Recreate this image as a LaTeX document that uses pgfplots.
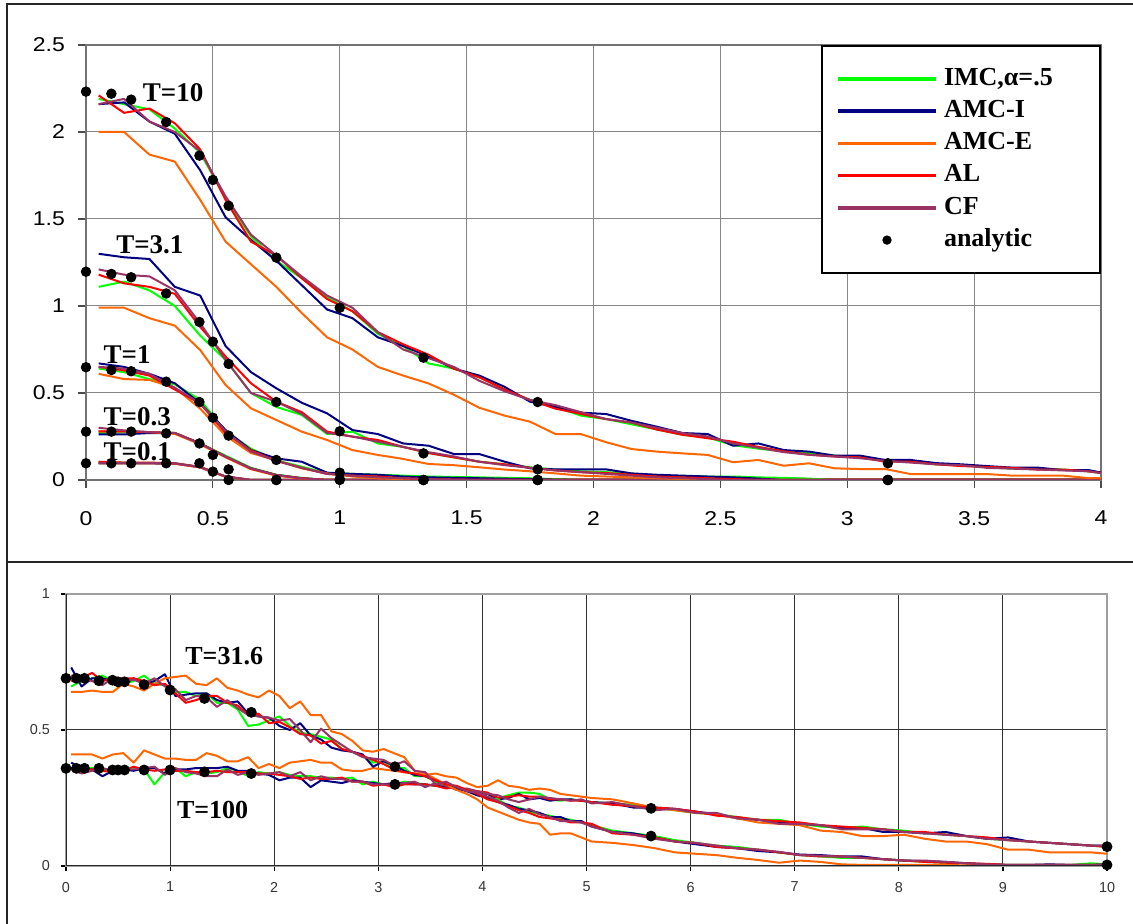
\documentclass[border=0pt]{standalone}
\usepackage{fontspec}
\setmainfont{Liberation Serif}
\setsansfont{Liberation Sans}
\newfontfamily\tickfont[FakeStretch=1.15]{Liberation Sans}
\usepackage{pgfplots}
\pgfplotsset{compat=1.18}
\usepackage{pgfplotstable}

\definecolor{cG}{RGB}{0,255,0}
\definecolor{cB}{RGB}{0,0,128}
\definecolor{cO}{RGB}{255,102,0}
\definecolor{cR}{RGB}{255,0,0}
\definecolor{cP}{RGB}{153,51,102}

\pgfplotsset{simline/.style={line width=1pt, forget plot, mark=none, line join=round}}
\newcommand{\fiveplots}[1]{%
 \addplot[cG, simline] table[x=x,y=G]{#1};
 \addplot[cB, simline] table[x=x,y=B]{#1};
 \addplot[cO, simline] table[x=x,y=O]{#1};
 \addplot[cR, simline] table[x=x,y=R]{#1};
 \addplot[cP, simline] table[x=x,y=P]{#1};}

% ---------- top panel ----------
\pgfplotstableread{
x G B O R P
0.05 2.19 2.16 2.00 2.21 2.16
0.15 2.16 2.17 2.00 2.11 2.19
0.25 2.13 2.06 1.87 2.135 2.06
0.35 2.02 1.99 1.83 2.05 2.00
0.45 1.88 1.78 1.61 1.90 1.89
0.55 1.62 1.51 1.37 1.61 1.63
0.65 1.40 1.38 1.24 1.37 1.41
0.75 1.26 1.26 1.11 1.29 1.29
0.85 1.16 1.12 0.96 1.16 1.17
0.95 1.05 0.98 0.82 1.04 1.06
1.05 0.97 0.93 0.75 0.97 0.99
1.15 0.84 0.82 0.65 0.85 0.85
1.25 0.77 0.77 0.60 0.78 0.75
1.35 0.67 0.71 0.555 0.72 0.70
1.45 0.64 0.64 0.49 0.64 0.65
1.55 0.59 0.60 0.415 0.59 0.57
1.65 0.52 0.535 0.37 0.52 0.51
1.75 0.46 0.45 0.335 0.46 0.46
1.85 0.42 0.42 0.264 0.41 0.43
1.95 0.37 0.387 0.264 0.38 0.39
2.05 0.35 0.379 0.217 0.35 0.35
2.15 0.32 0.34 0.178 0.33 0.33
2.25 0.29 0.306 0.163 0.29 0.30
2.35 0.26 0.27 0.153 0.26 0.27
2.45 0.245 0.264 0.144 0.24 0.25
2.55 0.20 0.197 0.102 0.22 0.21
2.65 0.18 0.21 0.115 0.19 0.185
2.75 0.165 0.172 0.082 0.165 0.16
2.85 0.155 0.163 0.096 0.145 0.145
2.95 0.14 0.14 0.067 0.135 0.135
3.05 0.13 0.14 0.063 0.13 0.125
3.15 0.11 0.115 0.063 0.105 0.11
3.25 0.105 0.115 0.034 0.105 0.10
3.35 0.09 0.097 0.034 0.09 0.09
3.45 0.085 0.09 0.034 0.08 0.085
3.55 0.075 0.08 0.034 0.075 0.07
3.65 0.065 0.071 0.025 0.07 0.065
3.75 0.065 0.071 0.025 0.06 0.06
3.85 0.06 0.057 0.025 0.06 0.055
3.95 0.05 0.057 0.011 0.05 0.05
4.00 0.04 0.043 0.011 0.04 0.04
}\tTen

\pgfplotstableread{
x G B O R P
0.05 1.11 1.30 0.99 1.18 1.21
0.15 1.14 1.28 0.99 1.13 1.18
0.25 1.09 1.27 0.93 1.11 1.17
0.35 1.00 1.11 0.887 1.07 1.09
0.45 0.83 1.06 0.747 0.88 0.90
0.55 0.69 0.77 0.546 0.71 0.69
0.65 0.50 0.62 0.412 0.556 0.50
0.75 0.42 0.527 0.345 0.45 0.45
0.85 0.374 0.444 0.278 0.39 0.38
0.95 0.264 0.383 0.23 0.278 0.27
1.05 0.278 0.287 0.172 0.249 0.25
1.15 0.21 0.264 0.144 0.23 0.22
1.25 0.19 0.21 0.121 0.19 0.19
1.35 0.155 0.197 0.092 0.155 0.16
1.45 0.13 0.149 0.085 0.13 0.135
1.55 0.105 0.149 0.073 0.105 0.105
1.65 0.09 0.105 0.06 0.09 0.085
1.75 0.073 0.067 0.05 0.07 0.07
1.85 0.06 0.061 0.038 0.055 0.055
1.95 0.05 0.061 0.025 0.045 0.045
2.05 0.045 0.061 0.02 0.04 0.035
2.15 0.035 0.038 0.015 0.03 0.025
2.25 0.025 0.03 0.01 0.02 0.015
2.35 0.022 0.025 0.006 0.015 0.01
2.45 0.02 0.02 0.004 0.01 0.005
2.55 0.02 0.015 0.0 0.005 0.0
2.65 0.015 0.008 0 0 0
2.75 0.012 0.0 0 0 0
2.85 0.008 0 0 0 0
2.95 0.0 0 0 0 0
4.00 0 0 0 0 0
}\tThree

\pgfplotstableread{
x G B O R P
0.05 0.64 0.67 0.61 0.65 0.65
0.15 0.62 0.65 0.58 0.63 0.64
0.25 0.58 0.61 0.575 0.60 0.61
0.35 0.55 0.556 0.53 0.52 0.53
0.45 0.46 0.44 0.41 0.44 0.44
0.55 0.28 0.287 0.255 0.27 0.28
0.65 0.18 0.172 0.155 0.17 0.163
0.75 0.113 0.124 0.113 0.11 0.11
0.85 0.076 0.105 0.067 0.07 0.07
0.95 0.04 0.042 0.038 0.035 0.035
1.05 0.035 0.035 0.02 0.025 0.025
1.15 0.03 0.03 0.01 0.02 0.015
1.25 0.025 0.02 0.005 0.01 0.01
1.35 0.02 0.015 0 0.005 0.005
1.55 0.015 0.01 0 0 0
1.75 0.01 0.005 0 0 0
1.95 0.0 0 0 0 0
4.00 0 0 0 0 0
}\tOne

\pgfplotstableread{
x G B O R P
0.05 0.27 0.262 0.28 0.28 0.30
0.15 0.275 0.262 0.28 0.28 0.285
0.25 0.274 0.27 0.275 0.275 0.275
0.35 0.27 0.27 0.265 0.27 0.27
0.45 0.21 0.21 0.205 0.21 0.21
0.55 0.14 0.134 0.13 0.134 0.134
0.65 0.07 0.067 0.062 0.065 0.067
0.75 0.03 0.029 0.025 0.028 0.028
0.85 0.012 0.01 0.008 0.01 0.01
0.95 0 0 0 0 0
4.00 0 0 0 0 0
}\tPtThree

\pgfplotstableread{
x G B O R P
0.05 0.10 0.095 0.096 0.105 0.098
0.15 0.10 0.095 0.096 0.10 0.098
0.25 0.098 0.095 0.096 0.10 0.097
0.35 0.096 0.094 0.094 0.096 0.096
0.45 0.075 0.073 0.072 0.075 0.074
0.55 0.02 0.02 0.018 0.02 0.02
0.65 0 0 0 0 0
4.00 0 0 0 0 0
}\tPtOne

% ---------- bottom panel ----------
\pgfplotstableread{
x G B O R P
0.05 0.66 0.73 0.64 0.68 0.70
0.15 0.68 0.66 0.64 0.69 0.69
0.25 0.69 0.69 0.645 0.71 0.68
0.35 0.70 0.69 0.64 0.68 0.665
0.45 0.68 0.68 0.64 0.69 0.69
0.55 0.67 0.665 0.67 0.69 0.68
0.65 0.68 0.69 0.66 0.69 0.685
0.75 0.70 0.67 0.645 0.68 0.67
0.85 0.67 0.68 0.67 0.665 0.69
0.95 0.665 0.705 0.69 0.67 0.66
1.05 0.64 0.625 0.695 0.635 0.65
1.15 0.64 0.63 0.70 0.60 0.61
1.25 0.625 0.635 0.67 0.61 0.625
1.35 0.635 0.635 0.665 0.625 0.62
1.45 0.60 0.61 0.69 0.625 0.585
1.55 0.60 0.60 0.655 0.60 0.61
1.65 0.575 0.605 0.645 0.59 0.58
1.75 0.515 0.56 0.63 0.555 0.555
1.85 0.52 0.55 0.62 0.56 0.55
1.95 0.535 0.545 0.645 0.525 0.545
2.05 0.55 0.515 0.625 0.53 0.535
2.15 0.515 0.50 0.58 0.51 0.54
2.25 0.49 0.525 0.605 0.485 0.50
2.35 0.485 0.48 0.555 0.48 0.455
2.45 0.475 0.465 0.555 0.45 0.505
2.55 0.465 0.435 0.495 0.46 0.47
2.65 0.43 0.425 0.485 0.43 0.445
2.75 0.42 0.42 0.46 0.42 0.42
2.85 0.405 0.41 0.425 0.405 0.40
2.95 0.38 0.365 0.42 0.39 0.395
3.05 0.385 0.385 0.43 0.375 0.39
3.15 0.36 0.37 0.415 0.355 0.37
3.25 0.36 0.35 0.40 0.345 0.385
3.35 0.33 0.335 0.35 0.34 0.35
3.45 0.33 0.33 0.34 0.33 0.345
3.55 0.31 0.315 0.32 0.315 0.30
3.65 0.30 0.30 0.30 0.30 0.31
3.75 0.29 0.285 0.28 0.295 0.29
3.85 0.28 0.275 0.265 0.28 0.275
3.95 0.265 0.26 0.245 0.265 0.27
4.05 0.25 0.25 0.215 0.245 0.255
4.15 0.245 0.235 0.20 0.235 0.24
4.25 0.22 0.225 0.185 0.22 0.215
4.35 0.215 0.21 0.17 0.205 0.195
4.45 0.20 0.205 0.16 0.195 0.21
4.55 0.19 0.195 0.155 0.18 0.19
4.65 0.185 0.18 0.115 0.175 0.18
4.75 0.175 0.18 0.12 0.17 0.165
4.85 0.17 0.165 0.12 0.16 0.165
4.95 0.16 0.165 0.105 0.16 0.16
5.05 0.15 0.145 0.09 0.155 0.145
5.25 0.13 0.125 0.085 0.12 0.125
5.45 0.12 0.12 0.077 0.115 0.115
5.65 0.11 0.105 0.066 0.105 0.10
5.85 0.095 0.09 0.05 0.09 0.09
6.05 0.085 0.08 0.045 0.085 0.085
6.25 0.075 0.07 0.04 0.07 0.075
6.45 0.07 0.065 0.03 0.065 0.065
6.65 0.06 0.055 0.022 0.06 0.06
6.85 0.05 0.05 0.012 0.05 0.052
7.05 0.04 0.042 0.02 0.04 0.04
7.25 0.035 0.04 0.015 0.035 0.038
7.45 0.03 0.035 0.006 0.035 0.034
7.65 0.03 0.035 0.004 0.03 0.03
7.85 0.025 0.025 0.004 0.025 0.025
8.05 0.02 0.02 0.004 0.02 0.02
8.25 0.015 0.018 0.004 0.015 0.02
8.45 0.012 0.015 0.004 0.012 0.015
8.65 0.01 0.01 0.002 0.01 0.01
8.85 0.006 0.006 0.002 0.008 0.006
9.05 0.004 0.004 0.002 0.004 0.004
9.25 0.004 0.004 0.002 0.004 0.004
9.45 0.004 0.006 0.002 0.004 0.004
9.65 0.004 0.004 0.002 0.004 0.004
9.85 0.01 0.004 0.002 0.004 0.004
10.0 0.006 0.006 0.002 0.005 0.006
}\tThirty

\pgfplotstableread{
x G B O R P
0.05 0.36 0.38 0.41 0.36 0.355
0.15 0.355 0.36 0.41 0.36 0.34
0.25 0.36 0.355 0.41 0.355 0.35
0.35 0.355 0.33 0.395 0.35 0.36
0.45 0.345 0.35 0.41 0.345 0.35
0.55 0.35 0.355 0.415 0.35 0.355
0.65 0.355 0.35 0.38 0.365 0.355
0.75 0.355 0.36 0.425 0.355 0.36
0.85 0.30 0.36 0.41 0.35 0.365
0.95 0.345 0.34 0.395 0.355 0.335
1.05 0.36 0.355 0.395 0.35 0.36
1.15 0.33 0.355 0.39 0.35 0.345
1.25 0.345 0.36 0.39 0.345 0.34
1.35 0.34 0.36 0.415 0.345 0.33
1.45 0.345 0.36 0.405 0.35 0.33
1.55 0.36 0.365 0.385 0.345 0.355
1.65 0.35 0.35 0.385 0.345 0.335
1.75 0.33 0.35 0.40 0.345 0.345
1.85 0.345 0.34 0.36 0.34 0.335
1.95 0.34 0.335 0.375 0.34 0.34
2.05 0.345 0.315 0.36 0.335 0.345
2.15 0.335 0.325 0.38 0.33 0.33
2.25 0.33 0.325 0.385 0.32 0.345
2.35 0.33 0.29 0.39 0.325 0.315
2.45 0.325 0.315 0.38 0.32 0.33
2.55 0.325 0.31 0.38 0.32 0.32
2.65 0.32 0.305 0.355 0.325 0.32
2.75 0.325 0.315 0.35 0.31 0.31
2.85 0.30 0.31 0.35 0.31 0.31
2.95 0.31 0.305 0.36 0.295 0.30
3.05 0.30 0.30 0.355 0.30 0.30
3.15 0.30 0.305 0.35 0.29 0.30
3.25 0.31 0.305 0.345 0.30 0.305
3.35 0.305 0.30 0.34 0.30 0.31
3.45 0.30 0.30 0.335 0.30 0.29
3.55 0.295 0.295 0.34 0.295 0.305
3.65 0.30 0.29 0.33 0.285 0.295
3.75 0.29 0.285 0.325 0.29 0.28
3.85 0.28 0.28 0.305 0.28 0.285
3.95 0.275 0.27 0.29 0.275 0.275
4.05 0.265 0.265 0.295 0.27 0.265
4.15 0.25 0.245 0.315 0.25 0.26
4.25 0.26 0.25 0.295 0.255 0.245
4.35 0.27 0.265 0.29 0.26 0.235
4.45 0.27 0.245 0.28 0.255 0.245
4.55 0.265 0.25 0.285 0.255 0.255
4.65 0.245 0.24 0.28 0.245 0.25
4.75 0.24 0.245 0.265 0.245 0.245
4.85 0.245 0.245 0.26 0.24 0.24
4.95 0.24 0.24 0.255 0.24 0.245
5.05 0.235 0.235 0.25 0.235 0.23
5.25 0.23 0.23 0.245 0.225 0.235
5.45 0.225 0.215 0.23 0.22 0.22
5.65 0.215 0.215 0.215 0.215 0.205
5.85 0.205 0.21 0.205 0.21 0.21
6.05 0.195 0.20 0.195 0.20 0.195
6.25 0.19 0.19 0.19 0.185 0.195
6.45 0.18 0.175 0.175 0.18 0.175
6.65 0.17 0.17 0.16 0.17 0.17
6.85 0.17 0.16 0.155 0.165 0.155
7.05 0.155 0.155 0.15 0.16 0.155
7.25 0.145 0.15 0.13 0.15 0.15
7.45 0.14 0.14 0.125 0.145 0.135
7.65 0.145 0.14 0.11 0.14 0.135
7.85 0.135 0.125 0.11 0.135 0.135
8.05 0.13 0.125 0.115 0.125 0.125
8.25 0.12 0.12 0.10 0.125 0.12
8.45 0.115 0.125 0.09 0.115 0.115
8.65 0.11 0.11 0.09 0.11 0.11
8.85 0.10 0.10 0.08 0.105 0.10
9.05 0.095 0.105 0.06 0.095 0.095
9.25 0.09 0.09 0.06 0.09 0.09
9.45 0.085 0.085 0.05 0.085 0.085
9.65 0.08 0.08 0.05 0.08 0.08
9.85 0.075 0.075 0.05 0.075 0.075
10.0 0.07 0.075 0.045 0.07 0.075
}\tHundred

\begin{document}
\begin{tikzpicture}[x=1pt,y=1pt]
\path[use as bounding box] (0pt,0pt) rectangle (566.5pt,462pt);
% outer frames
\draw[line width=0.8pt, black!85] (3.5pt,-5pt) -- (3.5pt,460pt) -- (575pt,460pt);
\draw[line width=0.8pt, black!85] (3.5pt,181pt) -- (575pt,181pt);

% ================= TOP =================
\begin{axis}[
  at={(43pt,222pt)}, anchor=south west,
  scale only axis, width=507.5pt, height=217.5pt,
  xmin=0, xmax=4, ymin=0, ymax=2.5,
  xtick={0,0.5,...,4}, ytick={0,0.5,...,2.5},
  grid=major, grid style={gray!95, line width=0.5pt},
  axis line style={gray!90!black, line width=0.7pt},
  tick align=outside, tick pos=left, major tick length=4pt,
  tick style={gray!60!black, line width=0.6pt},
  /pgf/number format/assume math mode=true,
  ticklabel style={font=\tickfont\fontsize{10}{12}\selectfont, text=black},
  yticklabel style={xshift=-3pt},
  xticklabel style={yshift=-8pt},
  legend style={at={(rel axis cs:1,1)}, anchor=north east, draw=black, line width=1pt, fill=white,
    font=\bfseries\fontsize{13}{14}\selectfont, inner xsep=7pt, inner ysep=8.5pt,
    nodes={inner ysep=2.3pt, text height=8.9pt, text depth=2.6pt}},
  legend cell align=left,
  legend image code/.code={\draw[#1] (0pt,0pt) -- (49pt,0pt); \path[draw=none,fill=none] (0pt,0pt) -- (51pt,0pt);},
]
\addlegendimage{cG, line width=1.8pt}
\addlegendentry{\makebox[69pt][l]{IMC,α=.5}}
\addlegendimage{cB, line width=1.8pt}
\addlegendentry{AMC-I}
\addlegendimage{cO, line width=1.8pt}
\addlegendentry{AMC-E}
\addlegendimage{cR, line width=1.8pt}
\addlegendentry{AL}
\addlegendimage{cP, line width=1.8pt}
\addlegendentry{CF}
\addlegendimage{legend image code/.code={\fill[black] (24.5pt,0pt) circle (1.8pt); \path[draw=none,fill=none] (0pt,0pt) -- (51pt,0pt);}}
\addlegendentry{analytic}

\fiveplots{\tPtOne}
\fiveplots{\tPtThree}
\fiveplots{\tOne}
\fiveplots{\tThree}
\fiveplots{\tTen}

\addplot[only marks, mark=*, mark size=2.4pt, black, forget plot] coordinates {
(0,2.232) (0.1,2.22) (0.178,2.186) (0.316,2.057) (0.447,1.864) (0.5,1.724) (0.562,1.576) (0.75,1.278) (1,0.99) (1.33,0.703) (1.78,0.448) (3.16,0.096)};
\addplot[only marks, mark=*, mark size=2.4pt, black, forget plot] coordinates {
(0,1.197) (0.1,1.184) (0.178,1.165) (0.316,1.072) (0.447,0.908) (0.5,0.795) (0.562,0.667) (0.75,0.448) (1,0.28) (1.33,0.153) (1.78,0.061) (3.16,0.0)};
\addplot[only marks, mark=*, mark size=2.4pt, black, forget plot] coordinates {
(0,0.648) (0.1,0.632) (0.178,0.625) (0.316,0.565) (0.447,0.448) (0.5,0.358) (0.562,0.255) (0.75,0.115) (1,0.042) (1.33,0) (1.78,0) (3.16,0)};
\addplot[only marks, mark=*, mark size=2.4pt, black, forget plot] coordinates {
(0,0.278) (0.1,0.278) (0.178,0.278) (0.316,0.268) (0.447,0.21) (0.5,0.144) (0.562,0.061) (0.75,0) (1,0.005) (1.33,0) (1.78,0) (3.16,0)};
\addplot[only marks, mark=*, mark size=2.4pt, black, forget plot] coordinates {
(0,0.096) (0.1,0.096) (0.178,0.096) (0.316,0.096) (0.447,0.096) (0.5,0.048) (0.562,0) (0.75,0) (1,0) (1.33,0) (1.78,0) (3.16,0)};

\begin{scope}[every node/.style={anchor=west, inner sep=0pt, font=\bfseries\fontsize{13.5}{15}\selectfont}]
\node at (axis cs:0.223,2.224) {T=10};
\node at (axis cs:0.118,1.35) {T=3.1};
\node at (axis cs:0.068,0.718) {T=1};
\node at (axis cs:0.068,0.364) {T=0.3};
\node at (axis cs:0.068,0.163) {T=0.1};
\end{scope}
\end{axis}

% ================= BOTTOM =================
\begin{axis}[
  at={(33pt,29pt)}, anchor=south west,
  scale only axis, width=520.5pt, height=136pt,
  xmin=0, xmax=10, ymin=0, ymax=1,
  xtick={0,1,...,10}, ytick={0,0.5,1},
  grid=major, grid style={black!80, line width=0.5pt},
  axis line style={gray!75, line width=1pt},
  tick align=outside, tick pos=left, major tick length=2.5pt,
  tick style={black, line width=0.6pt},
  /pgf/number format/assume math mode=true,
  ticklabel style={font=\sffamily\fontsize{7.2}{8}\selectfont, text=black!80},
  yticklabel style={xshift=-2pt},
  xticklabel style={yshift=-2pt},
]
\fiveplots{\tHundred}
\fiveplots{\tThirty}
\draw[black!85, line width=1.1pt] (rel axis cs:0,0) -- (rel axis cs:1,0);
\draw[black!85, line width=0.8pt] (rel axis cs:0,0) -- (rel axis cs:0,1);

\addplot[only marks, mark=*, mark size=2.5pt, black, forget plot] coordinates {
(0,0.69) (0.1,0.69) (0.178,0.69) (0.316,0.681) (0.447,0.683) (0.5,0.677) (0.562,0.677) (0.75,0.667) (1,0.647) (1.33,0.616) (1.78,0.565) (3.16,0.365) (5.62,0.11) (10,0.004)};
\addplot[only marks, mark=*, mark size=2.5pt, black, forget plot] coordinates {
(0,0.359) (0.1,0.359) (0.178,0.359) (0.316,0.359) (0.447,0.353) (0.5,0.353) (0.562,0.353) (0.75,0.353) (1,0.353) (1.33,0.346) (1.78,0.34) (3.16,0.30) (5.62,0.212) (10,0.071)};

\begin{scope}[every node/.style={anchor=west, inner sep=0pt, font=\bfseries\fontsize{13}{15}\selectfont}]
\node at (axis cs:1.143,0.77) {T=31.6};
\node at (axis cs:1.063,0.206) {T=100};
\end{scope}
\end{axis}
\end{tikzpicture}
\end{document}
